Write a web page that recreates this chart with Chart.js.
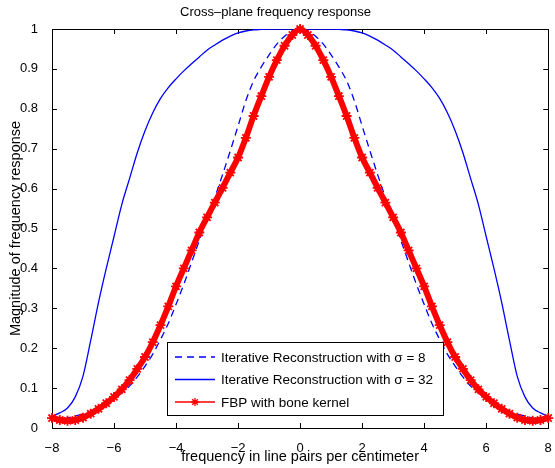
<!DOCTYPE html>
<html><head><meta charset="utf-8">
<script src="https://cdn.jsdelivr.net/npm/chart.js@4/dist/chart.umd.min.js"></script>
<style>html,body{margin:0;padding:0;background:#fff}canvas{display:block}</style>
</head><body>
<canvas id="c" width="555" height="468"></canvas>
<script>
const freq = [-8,-7.75,-7.5,-7.25,-7,-6.75,-6.5,-6.25,-6,-5.75,-5.5,-5.25,-5,-4.75,-4.5,-4.25,-4,-3.75,-3.5,-3.25,-3,-2.75,-2.5,-2.25,-2,-1.75,-1.5,-1.25,-1,-0.75,-0.5,-0.25,0,
  0.25,0.5,0.75,1,1.25,1.5,1.75,2,2.25,2.5,2.75,3,3.25,3.5,3.75,4,4.25,4.5,4.75,5,5.25,5.5,5.75,6,6.25,6.5,6.75,7,7.25,7.5,7.75,8];
const sigma8 = [0.02,0.022,0.025,0.03,0.035,0.042,0.05,0.06,0.072,0.088,0.105,0.128,0.155,0.185,0.222,0.262,0.31,0.36,0.415,0.47,0.525,0.578,0.635,0.695,0.757,0.82,0.87,0.905,0.935,0.962,0.982,0.995,1,
  0.995,0.982,0.962,0.935,0.905,0.87,0.82,0.757,0.695,0.635,0.578,0.525,0.47,0.415,0.36,0.31,0.262,0.222,0.185,0.155,0.128,0.105,0.088,0.072,0.06,0.05,0.042,0.035,0.03,0.025,0.022,0.02];
const sigma32 = [0.03,0.038,0.05,0.078,0.13,0.22,0.315,0.4,0.48,0.56,0.625,0.69,0.745,0.79,0.826,0.853,0.875,0.895,0.913,0.93,0.947,0.96,0.972,0.982,0.99,0.995,0.998,0.999,1,1,1,1,1,
  1,1,1,1,0.999,0.998,0.995,0.99,0.982,0.972,0.96,0.947,0.93,0.913,0.895,0.875,0.853,0.826,0.79,0.745,0.69,0.625,0.56,0.48,0.4,0.315,0.22,0.13,0.078,0.05,0.038,0.03];
const fbp = [0.025,0.02,0.018,0.02,0.026,0.036,0.048,0.062,0.078,0.097,0.12,0.148,0.178,0.215,0.258,0.305,0.355,0.4,0.445,0.49,0.528,0.565,0.602,0.64,0.678,0.727,0.782,0.832,0.88,0.922,0.958,0.985,1,
  0.985,0.958,0.922,0.88,0.832,0.782,0.727,0.678,0.64,0.602,0.565,0.528,0.49,0.445,0.4,0.355,0.305,0.258,0.215,0.178,0.148,0.12,0.097,0.078,0.062,0.048,0.036,0.026,0.02,0.018,0.02,0.025];
const xTicks = [-8,-6,-4,-2,0,2,4,6,8];
const yTicks = [0,0.1,0.2,0.3,0.4,0.5,0.6,0.7,0.8,0.9,1];
const seriesLabels = ['Iterative Reconstruction with \u03C3 = 8','Iterative Reconstruction with \u03C3 = 32','FBP with bone kernel'];
const chartTitle = 'Cross\u2013plane frequency response';
const xTitle = 'frequency in line pairs per centimeter';
const yTitle = 'Magnitude of frequency response';

const FONT = '"Liberation Sans", Arial, Helvetica, sans-serif';
const toPts = ys => freq.map((x, i) => ({x, y: ys[i]}));

const framePlugin = {
  id: 'frame',
  beforeDatasetsDraw(chart) {
    const {ctx, chartArea: a, scales} = chart;
    ctx.save();
    ctx.strokeStyle = '#000';
    ctx.lineWidth = 1;
    ctx.beginPath();
    const L = 5;
    xTicks.forEach(v => {
      const px = Math.round(scales.x.getPixelForValue(v)) + 0.5;
      ctx.moveTo(px, a.bottom); ctx.lineTo(px, a.bottom - L);
      ctx.moveTo(px, a.top); ctx.lineTo(px, a.top + L);
    });
    yTicks.forEach(v => {
      const py = Math.round(scales.y.getPixelForValue(v)) + 0.5;
      ctx.moveTo(a.left, py); ctx.lineTo(a.left + L, py);
      ctx.moveTo(a.right, py); ctx.lineTo(a.right - L, py);
    });
    ctx.stroke();
    ctx.strokeRect(Math.round(a.left) + 0.5, Math.round(a.top) + 0.5, Math.round(a.right - a.left), Math.round(a.bottom - a.top));
    ctx.restore();
  }
};

const legendPlugin = {
  id: 'boxLegend',
  afterDatasetsDraw(chart) {
    const ctx = chart.ctx;
    const bx = 167.5, by = 342.5, bw = 276, bh = 73;
    ctx.save();
    ctx.fillStyle = '#fff';
    ctx.fillRect(bx, by, bw, bh);
    ctx.strokeStyle = '#000';
    ctx.lineWidth = 1;
    ctx.strokeRect(bx, by, bw, bh);
    const rows = [357, 379.5, 402];
    const x0 = 175, x1 = 215;
    ctx.strokeStyle = '#0000ff';
    ctx.lineWidth = 1.3;
    ctx.setLineDash([7, 5]);
    ctx.beginPath(); ctx.moveTo(x0, rows[0]); ctx.lineTo(x1, rows[0]); ctx.stroke();
    ctx.setLineDash([]);
    ctx.beginPath(); ctx.moveTo(x0, rows[1]); ctx.lineTo(x1, rows[1]); ctx.stroke();
    ctx.strokeStyle = '#ff0000';
    ctx.beginPath(); ctx.moveTo(x0, rows[2]); ctx.lineTo(x1, rows[2]); ctx.stroke();
    Chart.helpers.drawPoint(ctx, {pointStyle: 'star', radius: 4, borderWidth: 1.5}, (x0 + x1) / 2, rows[2]);
    ctx.fillStyle = '#000';
    ctx.font = '13.5px ' + FONT;
    ctx.textBaseline = 'middle';
    ctx.textAlign = 'left';
    seriesLabels.forEach((t, i) => ctx.fillText(t, 221, rows[i] + 1));
    ctx.restore();
  }
};

new Chart(document.getElementById('c'), {
  type: 'line',
  data: {
    datasets: [
      {label: seriesLabels[2], data: toPts(fbp), borderColor: '#ff0000', backgroundColor: '#ff0000', borderWidth: 6,
       pointStyle: 'star', pointRadius: 5, pointBorderColor: '#ff0000', pointBorderWidth: 1.8, cubicInterpolationMode: 'monotone', clip: false, order: 0},
      {label: seriesLabels[1], data: toPts(sigma32), borderColor: '#0000ff', borderWidth: 1.3, pointRadius: 0, cubicInterpolationMode: 'monotone', order: 1},
      {label: seriesLabels[0], data: toPts(sigma8), borderColor: '#0000ff', borderWidth: 1.3, borderDash: [7, 5], pointRadius: 0, cubicInterpolationMode: 'monotone', order: 2}
    ]
  },
  options: {
    responsive: false,
    animation: false,
    events: [],
    layout: {padding: {top: 0, right: 4, left: 0, bottom: 0}},
    plugins: {
      legend: {display: false},
      tooltip: {enabled: false},
      title: {display: true, text: chartTitle, color: '#000', font: {family: FONT, size: 13, weight: 'normal'}, padding: {top: 5, bottom: 8.4}}
    },
    scales: {
      x: {
        type: 'linear', min: -8, max: 8,
        grid: {display: false}, border: {display: false},
        afterBuildTicks: s => { s.ticks = xTicks.map(v => ({value: v})); },
        afterFit: s => { s.height = 40; s.paddingLeft = 0; s.paddingRight = 0; },
        ticks: {color: '#000', font: {family: FONT, size: 13}, padding: 5, maxRotation: 0,
                callback: v => String(v).replace('-', '\u2212')},
        title: {display: true, text: xTitle, color: '#000', font: {family: FONT, size: 14.5}, padding: {top: 0, bottom: 2}}
      },
      y: {
        type: 'linear', min: 0, max: 1,
        grid: {display: false}, border: {display: false},
        afterBuildTicks: s => { s.ticks = yTicks.map(v => ({value: v})); },
        afterFit: s => { s.width = 52; s.paddingTop = 0; s.paddingBottom = 0; },
        ticks: {color: '#000', font: {family: FONT, size: 13}, padding: 6,
                callback: v => String(Math.round(v * 10) / 10)},
        title: {display: true, text: yTitle, color: '#000', font: {family: FONT, size: 14.5}, padding: {top: 7, bottom: 0}}
      }
    }
  },
  plugins: [framePlugin, legendPlugin]
});
</script>
</body></html>
